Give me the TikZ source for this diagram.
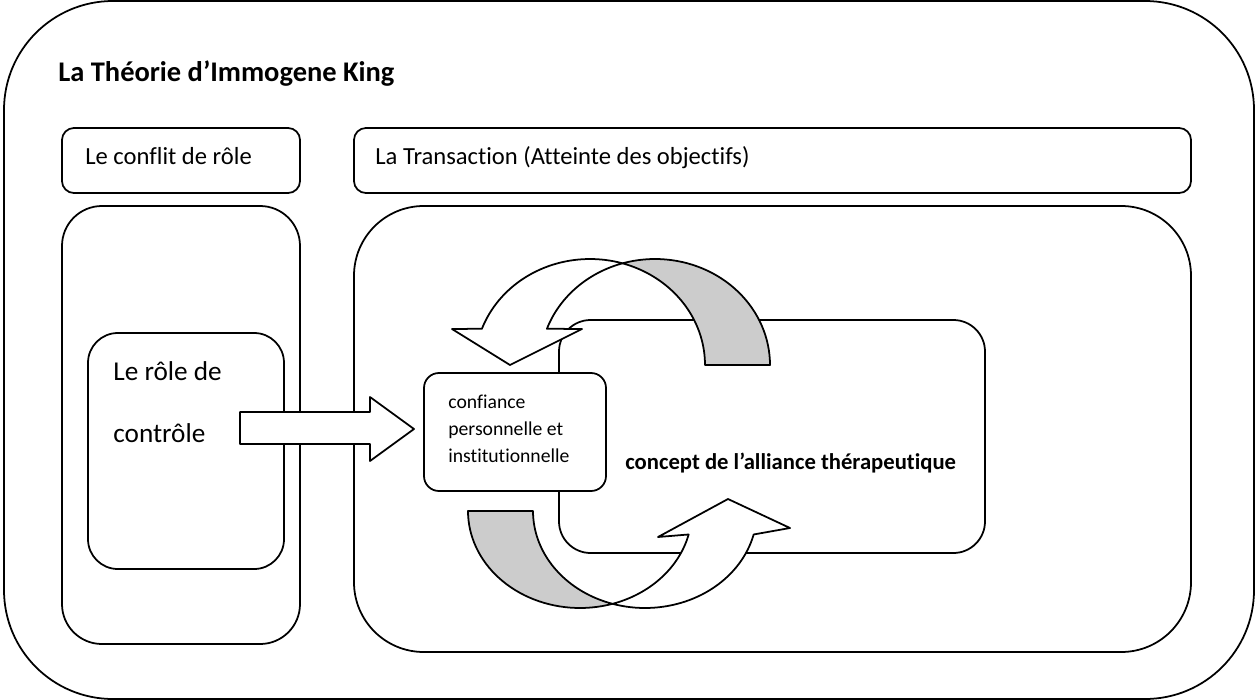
\documentclass[tikz,border=0pt]{standalone}
\usepackage{fontspec}
\setmainfont{Carlito}[Ligatures=NoCommon]
\tikzset{
  frame/.style={draw=black, line width=1pt},
  whiteband/.style={draw=black, line width=1pt, fill=white, line join=round},
  greyband/.style={draw=black, line width=1pt, fill=black!20, line join=round},
  lbl/.style={anchor=base west, inner sep=0pt, align=left}
}
\begin{document}
\begin{tikzpicture}[x=0.02cm, y=-0.02cm]
			%%%%% START %%%%%
			\useasboundingbox (0, 0) rectangle (1255, 700);
			
			\draw[frame, rounded corners=62pt] (4, 1) rectangle (1254, 699);
			\node[lbl, font=\fontsize{16.2}{19}\selectfont\bfseries] (king) at (58, 81) {La Théorie d’Immogene King};
			
			\draw[frame, rounded corners=6.8pt] (62, 128) rectangle (300, 193);
			\node[lbl, font=\fontsize{14}{17}\selectfont] (conflit) at (85, 164) {Le conflit de rôle};
			\draw[frame, rounded corners=6.8pt] (354, 128) rectangle (1191, 193);
			\node[lbl, font=\fontsize{14}{17}\selectfont] (transaction) at (375, 164) {La Transaction (Atteinte des objectifs)};
			
			\draw[frame, rounded corners=22.7pt] (62, 206) rectangle (300, 644);
			\draw[frame, rounded corners=17pt] (88, 333) rectangle (284, 569);
			% base of a multi-line node = last line
			\node[lbl, font=\fontsize{15.5}{35.2}\selectfont] (role) at (113, 442) {Le rôle de\\contrôle};
			
			\draw[frame, rounded corners=39.7pt] (354, 206) rectangle (1191, 652);
			\draw[frame, rounded corners=18pt] (559, 320) rectangle (985, 553);
			\node[lbl, font=\fontsize{12.9}{15}\selectfont\bfseries] (alliance) at (625, 469) {concept de l’alliance thérapeutique};
			
			\draw[frame, fill=white, rounded corners=8.5pt] (424, 373) rectangle (606, 491);
			\node[lbl, font=\fontsize{11.2}{15.3}\selectfont] (confiance) at (448, 462) {confiance\\personnelle et\\institutionnelle};
			
			% straight arrow
			\draw[whiteband] (240, 412) -- (370, 412) -- (370, 397) -- (414, 429) -- (370, 461) -- (370, 444) -- (240, 444) -- cycle;
			
			% upper curved arrow
			\draw[greyband] plot[domain=106.4:0, samples=40] ({655+115*cos(\x)}, {365-106*sin(\x)})
			  -- (705, 365) -- plot[domain=0:73.6, samples=40] ({590+115*cos(\x)}, {365-106*sin(\x)}) -- cycle;
			\draw[whiteband] plot[domain=160:73.6, samples=40] ({590+115*cos(\x)}, {365-106*sin(\x)})
			  -- plot[domain=106.4:160, samples=40] ({655+115*cos(\x)}, {365-106*sin(\x)})
			  -- (582, 329) -- (510, 365) -- (452, 329) -- cycle;
			
			% lower curved arrow
			\draw[greyband] plot[domain=180:286.9, samples=40] ({580+112*cos(\x)}, {511-97*sin(\x)})
			  -- plot[domain=253.1:180, samples=40] ({645+112*cos(\x)}, {511-97*sin(\x)}) -- cycle;
			\draw[whiteband] plot[domain=253.1:346, samples=40] ({645+112*cos(\x)}, {511-97*sin(\x)})
			  -- (790, 528) -- (728, 499) -- (658, 537)
			  -- plot[domain=346:286.9, samples=40] ({580+112*cos(\x)}, {511-97*sin(\x)}) -- cycle;
			%%%%% END %%%%%
\end{tikzpicture}
\end{document}
